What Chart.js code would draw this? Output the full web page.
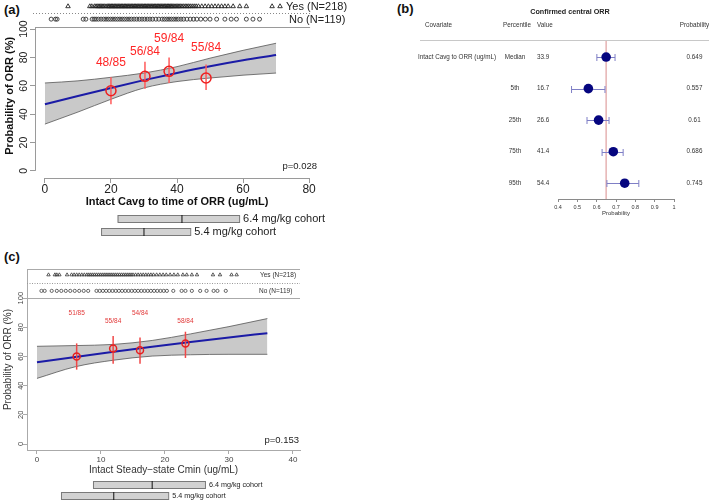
<!DOCTYPE html>
<html><head><meta charset="utf-8">
<script src="https://cdn.jsdelivr.net/npm/chart.js@4.4.1/dist/chart.umd.min.js"></script>
<style>
html,body{margin:0;padding:0;background:#fff;}
body{width:709px;height:504px;position:relative;overflow:hidden;font-family:"Liberation Sans",Arial,Helvetica,sans-serif;}
canvas{position:absolute;}
.plab{position:absolute;font-weight:bold;font-size:13px;line-height:13px;color:#111;}
</style></head><body>
<div class="plab" style="left:4px;top:3px">(a)</div>
<div class="plab" style="left:397px;top:2px">(b)</div>
<div class="plab" style="left:4px;top:250px">(c)</div>
<canvas id="ca" width="365" height="245" style="left:0;top:0"></canvas>
<canvas id="cb" width="344" height="230" style="left:365px;top:0"></canvas>
<canvas id="cc" width="365" height="279" style="left:0;top:225px"></canvas>
<script>
// ---------- Panel (a): Intact Cavg to time of ORR ----------
const aCurveX = [0, 10, 20, 30, 40, 50, 60, 70];
const aFit    = [47, 52.8, 58.5, 64, 69.1, 73.8, 78, 81.7];
const aLower  = [33, 41.5, 50.5, 58.5, 63, 65.5, 67.5, 69];
const aUpper  = [62, 63.5, 66, 69, 73.5, 79.5, 85, 90];
const aBinX   = [20, 30.3, 37.6, 48.8];
const aBinPct = [56.5, 66.7, 70.2, 65.5];
const aBinLo  = [47, 58, 62, 57];
const aBinHi  = [66, 77, 80, 75];
const aBinLabel = ['48/85', '56/84', '59/84', '55/84'];
const aYes = [7, 13.6, 14.2, 15, 15.5, 16, 16.4, 16.8, 17.2, 17.6, 18, 18.5, 19, 19.3, 19.6, 20, 20.3, 20.6, 21, 21.3, 21.6, 22, 22.3, 22.6, 23, 23.3, 23.6, 24, 24.3, 24.6, 25, 25.3, 25.6, 26, 26.3, 26.6, 27, 27.3, 27.6, 28, 28.3, 28.6, 29, 29.3, 29.6, 30, 30.3, 30.6, 31, 31.3, 31.6, 32, 32.3, 32.6, 33, 33.3, 33.6, 34, 34.3, 34.6, 35, 35.3, 35.6, 36, 36.3, 36.6, 37, 37.3, 37.6, 38, 38.3, 38.6, 39, 39.4, 39.8, 40.2, 40.6, 41, 41.5, 42, 42.5, 43, 43.5, 44, 44.6, 45.2, 45.8, 46.5, 47.5, 48.5, 49.5, 50.5, 51.5, 52.5, 53.5, 54.5, 55.5, 57, 59, 61, 68.8, 71.2];
const aNo  = [1.9, 3.2, 3.7, 11.6, 12.4, 14.3, 14.9, 15.5, 16.2, 17, 17.8, 18.5, 19.2, 19.9, 20.6, 21.3, 22, 22.7, 23.4, 24.1, 24.8, 25.5, 26.2, 27, 27.8, 28.6, 29.4, 30.2, 31, 31.8, 32.6, 33.6, 34.5, 35.5, 36.2, 36.9, 37.6, 38.3, 39, 39.7, 40.4, 41.2, 42, 43, 44, 45, 46, 47.2, 48.6, 50, 52, 54.5, 56.4, 58, 61, 63, 65];
const aCohort64 = [22, 41.5, 58.8];   // min, median, max
const aCohort54 = [17, 30, 44];
const aTicksX = [0, 20, 40, 60, 80];
const aTicksY = [0, 20, 40, 60, 80, 100];

// ---------- Panel (b): forest plot ----------
const bCovariate  = 'Intact Cavg to ORR (ug/mL)';
const bPercentile = ['Median', '5th', '25th', '75th', '95th'];
const bValue      = [33.9, 16.7, 26.6, 41.4, 54.4];
const bProb       = [0.649, 0.557, 0.61, 0.686, 0.745];
const bLo         = [0.601, 0.47, 0.55, 0.628, 0.653];
const bHi         = [0.695, 0.643, 0.664, 0.737, 0.818];
const bRef        = 0.649;
const bTicks      = [0.4, 0.5, 0.6, 0.7, 0.8, 0.9, 1];

// ---------- Panel (c): Intact Steady-state Cmin ----------
const cCurveX = [0, 6, 12, 18, 24, 30, 36];
const cFit    = [56, 59.7, 63.3, 66.7, 70, 73.1, 76];
const cLower  = [45, 53, 57.5, 60.3, 61.2, 61.5, 61.5];
const cUpper  = [67, 67.5, 68.3, 71, 75.5, 80.5, 86];
const cBinX   = [6.2, 11.9, 16.1, 23.2];
const cBinPct = [60, 65.5, 64.3, 69];
const cBinLo  = [51, 55, 55, 59];
const cBinHi  = [69, 74, 73, 77];
const cBinLabel = ['51/85', '55/84', '54/84', '58/84'];
const cYes = [1.8, 2.8, 3.1, 3.5, 4.7, 5.4, 5.8, 6.2, 6.6, 7, 7.4, 7.8, 8.1, 8.4, 8.7, 9, 9.3, 9.6, 9.9, 10.2, 10.5, 10.8, 11.1, 11.4, 11.7, 12, 12.3, 12.6, 12.9, 13.2, 13.5, 13.8, 14.1, 14.4, 14.7, 15, 15.4, 15.8, 16.2, 16.6, 17, 17.4, 17.8, 18.2, 18.7, 19.2, 19.7, 20.2, 20.8, 21.4, 22, 22.8, 23.4, 24.2, 25, 27.5, 28.6, 30.4, 31.2];
const cNo  = [0.7, 1.2, 2.3, 3.1, 3.8, 4.5, 5.2, 5.9, 6.6, 7.3, 8, 9.3, 9.8, 10.3, 10.8, 11.3, 11.8, 12.3, 12.8, 13.3, 13.8, 14.3, 14.8, 15.3, 15.8, 16.3, 16.8, 17.3, 17.8, 18.3, 18.8, 19.3, 19.8, 20.3, 21.3, 22.6, 23.2, 24.2, 25.5, 26.5, 27.6, 28.2, 29.5];
const cCohort64 = [8.75, 18, 26.25];
const cCohort54 = [3.75, 12, 20.5];
const cTicksX = [0, 10, 20, 30, 40];
const cTicksY = [0, 20, 40, 60, 80, 100];

// ---------- common ----------
const FONT = '"Liberation Sans", Arial, Helvetica, sans-serif';
Chart.defaults.font.family = FONT;
Chart.defaults.color = '#222';
Chart.defaults.animation = false;
Chart.defaults.events = [];
Chart.defaults.plugins.legend.display = false;
Chart.defaults.plugins.tooltip.enabled = false;

const fixedTicks = arr => scale => { scale.ticks = arr.map(v => ({value: v})); };
const fixWidth = w => s => { s.width = w; s.paddingTop = 0; s.paddingBottom = 0; s.paddingLeft = 0; s.paddingRight = 0; };
const fixHeight = h => s => { s.height = h; s.paddingTop = 0; s.paddingBottom = 0; s.paddingLeft = 0; s.paddingRight = 0; };
const pts = (xs, ys) => xs.map((x, i) => ({x: x, y: ys[i]}));
const rug = (xs, yv) => xs.map(x => ({x: x, y: yv}));

function drawCohort(ctx, xs, vals, y, h, label, fontPx, gap) {
  const x0 = xs.getPixelForValue(vals[0]), xm = xs.getPixelForValue(vals[1]), x1 = xs.getPixelForValue(vals[2]);
  ctx.fillStyle = '#d2d2d2'; ctx.fillRect(x0, y, x1 - x0, h);
  ctx.strokeStyle = '#7a7a7a'; ctx.lineWidth = 1; ctx.strokeRect(x0 + 0.5, y + 0.5, x1 - x0, h);
  ctx.strokeStyle = '#111'; ctx.beginPath(); ctx.moveTo(xm, y); ctx.lineTo(xm, y + h + 1); ctx.stroke();
  ctx.fillStyle = '#222'; ctx.font = fontPx + 'px ' + FONT; ctx.textAlign = 'left'; ctx.textBaseline = 'middle';
  ctx.fillText(label, x1 + gap, y + h / 2 + 0.5);
}
function line(ctx, x0, y0, x1, y1) { ctx.beginPath(); ctx.moveTo(x0, y0); ctx.lineTo(x1, y1); ctx.stroke(); }

function curveDatasets(xs, lo, up, fit, binX, binPct, binColor, binR, lineW) {
  return [
    {data: pts(xs, lo), borderColor: '#555', borderWidth: 0.8, pointRadius: 0, fill: false, cubicInterpolationMode: 'monotone', order: 5},
    {data: pts(xs, up), borderColor: '#555', borderWidth: 0.8, pointRadius: 0, fill: '-1', backgroundColor: '#c9c9c9', cubicInterpolationMode: 'monotone', order: 4},
    {data: pts(xs, fit), borderColor: '#1b1ba6', borderWidth: lineW, pointRadius: 0, fill: false, cubicInterpolationMode: 'monotone', order: 3},
    {data: pts(binX, binPct), showLine: false, pointStyle: 'circle', pointRadius: binR, borderColor: binColor, borderWidth: 1.5, backgroundColor: 'rgba(0,0,0,0)', order: 1}
  ];
}

// ================= Panel (a) =================
const A_YES_Y = 116, A_NO_Y = 107, A_PLOT_TOP = 101.5;
const aLabelY = [76, 84, 93, 87];
new Chart(document.getElementById('ca'), {
  type: 'line',
  data: {datasets: curveDatasets(aCurveX, aLower, aUpper, aFit, aBinX, aBinPct, '#ee2020', 5, 2).concat([
    {data: rug(aYes, A_YES_Y), showLine: false, pointStyle: 'triangle', pointRadius: 2.6, borderWidth: 0.9, borderColor: '#222', backgroundColor: 'rgba(0,0,0,0)', order: 0},
    {data: rug(aNo, A_NO_Y), showLine: false, pointStyle: 'circle', pointRadius: 2, borderWidth: 0.9, borderColor: '#333', backgroundColor: 'rgba(0,0,0,0)', order: 0}
  ])},
  options: {
    responsive: false,
    layout: {autoPadding: false, padding: {top: 1, right: 46, left: 0, bottom: 0}},
    plugins: {filler: {drawTime: 'beforeDatasetsDraw'}},
    scales: {
      x: {type: 'linear', min: -3, max: 83, afterBuildTicks: fixedTicks(aTicksX), afterFit: fixHeight(67),
          grid: {drawOnChartArea: false, tickLength: 5, color: '#999'}, border: {display: false},
          ticks: {font: {size: 12}, color: '#222', padding: -1, autoSkip: false, maxRotation: 0},
          title: {display: true, text: 'Intact Cavg to time of ORR (ug/mL)', font: {size: 11, weight: 'bold'}, color: '#111', padding: {top: 0, bottom: 36}}},
      y: {type: 'linear', min: -5, max: 119.8, afterBuildTicks: fixedTicks(aTicksY), afterFit: fixWidth(35),
          grid: {drawOnChartArea: false, tickLength: 5, color: '#999'}, border: {display: false},
          ticks: {font: {size: 10.5}, color: '#222', minRotation: 90, maxRotation: 90, crossAlign: 'center', padding: -3, autoSkip: false},
          title: {display: false}}
    }
  },
  plugins: [{
    id: 'panelA',
    beforeDatasetDraw(chart, args) {
      if (args.index !== 3) return;
      const {ctx} = chart, xs = chart.scales.x, ys = chart.scales.y;
      ctx.save(); ctx.strokeStyle = '#ff5a5a'; ctx.lineWidth = 1.5;
      aBinX.forEach((x, i) => { const px = xs.getPixelForValue(x); line(ctx, px, ys.getPixelForValue(aBinLo[i]), px, ys.getPixelForValue(aBinHi[i])); });
      ctx.restore();
    },
    afterDraw(chart) {
      const {ctx, chartArea: ca} = chart, xs = chart.scales.x, ys = chart.scales.y;
      ctx.save();
      ctx.strokeStyle = '#9a9a9a'; ctx.lineWidth = 1;
      const xr = xs.getPixelForValue(80) + 1;
      const yt = Math.round(ys.getPixelForValue(A_PLOT_TOP)) + 0.5;
      line(ctx, ca.left, yt, xr, yt);
      line(ctx, ca.left + 0.5, yt, ca.left + 0.5, ys.getPixelForValue(0));
      line(ctx, xs.getPixelForValue(0), ca.bottom + 0.5, xs.getPixelForValue(80), ca.bottom + 0.5);
      ctx.setLineDash([1, 2]); ctx.strokeStyle = '#888';
      const yd = Math.round(ys.getPixelForValue(111.3)) + 0.5;
      line(ctx, ca.left - 2, yd, xr, yd);
      ctx.setLineDash([]);
      // y axis title
      ctx.save();
      ctx.translate(10, ys.getPixelForValue(53));
      ctx.rotate(-Math.PI / 2);
      ctx.fillStyle = '#111'; ctx.font = 'bold 11px ' + FONT; ctx.textAlign = 'center'; ctx.textBaseline = 'middle';
      ctx.fillText('Probability of ORR (%)', 0, 0);
      ctx.restore();
      // bin labels
      ctx.fillStyle = '#ff2626'; ctx.font = '12px ' + FONT; ctx.textAlign = 'center'; ctx.textBaseline = 'middle';
      aBinLabel.forEach((t, i) => ctx.fillText(t, xs.getPixelForValue(aBinX[i]), ys.getPixelForValue(aLabelY[i])));
      // rug labels
      ctx.fillStyle = '#222'; ctx.font = '11px ' + FONT; ctx.textAlign = 'left';
      ctx.fillText('Yes (N=218)', ca.right - 33, ys.getPixelForValue(A_YES_Y) + 0.5);
      ctx.fillText('No (N=119)', ca.right - 30, ys.getPixelForValue(A_NO_Y) + 0.5);
      // p value
      ctx.font = '9.5px ' + FONT; ctx.textAlign = 'right';
      ctx.fillText('p=0.028', ca.right - 2, ys.getPixelForValue(3.5));
      // cohort boxes
      drawCohort(ctx, xs, aCohort64, ca.bottom + 37, 7, '6.4 mg/kg cohort', 11, 4);
      drawCohort(ctx, xs, aCohort54, ca.bottom + 50, 7, '5.4 mg/kg cohort', 11, 4);
      ctx.restore();
    }
  }]
});

// ================= Panel (b) =================
new Chart(document.getElementById('cb'), {
  type: 'scatter',
  data: {datasets: [{data: bProb.map((p, i) => ({x: p, y: i})), pointRadius: 4.8, pointStyle: 'circle', backgroundColor: '#05057f', borderColor: '#05057f', borderWidth: 0}]},
  options: {
    responsive: false,
    layout: {autoPadding: false, padding: {top: 40, right: 35, left: 193, bottom: 0}},
    scales: {
      x: {type: 'linear', min: 0.4, max: 1, afterBuildTicks: fixedTicks(bTicks), afterFit: fixHeight(31),
          grid: {drawOnChartArea: false, tickLength: 3, color: '#8a8a8a'}, border: {display: true, color: '#8a8a8a'},
          ticks: {font: {size: 5.5}, color: '#333', padding: 2, autoSkip: false, maxRotation: 0, callback: v => String(Math.round(v * 10) / 10)},
          title: {display: true, text: 'Probability', font: {size: 6}, color: '#333', padding: {top: 0, bottom: 13}}},
      y: {type: 'linear', min: -0.54, max: 4.5, reverse: true, display: false}
    }
  },
  plugins: [{
    id: 'panelB',
    beforeDatasetsDraw(chart) {
      const {ctx, chartArea: ca} = chart, xs = chart.scales.x, ys = chart.scales.y;
      ctx.save();
      ctx.strokeStyle = '#e6b3b3'; ctx.lineWidth = 1.5;
      const xr = xs.getPixelForValue(bRef);
      line(ctx, xr, ca.top, xr, ca.bottom);
      ctx.strokeStyle = '#7f7fc6'; ctx.lineWidth = 1;
      bProb.forEach((p, i) => {
        const y = Math.round(ys.getPixelForValue(i)) + 0.5, x0 = xs.getPixelForValue(bLo[i]), x1 = xs.getPixelForValue(bHi[i]);
        line(ctx, x0, y, x1, y); line(ctx, x0, y - 3.5, x0, y + 3.5); line(ctx, x1, y - 3.5, x1, y + 3.5);
      });
      ctx.restore();
    },
    afterDraw(chart) {
      const {ctx, chartArea: ca} = chart, ys = chart.scales.y;
      ctx.save();
      ctx.fillStyle = '#222'; ctx.font = 'bold 7.2px ' + FONT; ctx.textAlign = 'center'; ctx.textBaseline = 'middle';
      ctx.fillText('Confirmed central ORR', 205, 12);
      ctx.font = '6.3px ' + FONT; ctx.fillStyle = '#333';
      ctx.textAlign = 'left';
      ctx.fillText('Covariate', 60, 25); ctx.fillText('Percentile', 138, 25); ctx.fillText('Value', 172, 25);
      ctx.textAlign = 'center'; ctx.fillText('Probability', 329.5, 25);
      ctx.strokeStyle = '#c8c8c8'; ctx.lineWidth = 1; line(ctx, 55, ca.top + 0.5, 344, ca.top + 0.5);
      bPercentile.forEach((p, i) => {
        const y = ys.getPixelForValue(i);
        if (i === 0) { ctx.textAlign = 'left'; ctx.fillText(bCovariate, 53, y); }
        ctx.textAlign = 'center'; ctx.fillText(p, 150, y);
        ctx.textAlign = 'left'; ctx.fillText(bValue[i].toFixed(1), 172, y);
        ctx.textAlign = 'center'; ctx.fillText(String(bProb[i]), 329.5, y);
      });
      ctx.restore();
    }
  }]
});

// ================= Panel (c) =================
const C_YES_Y = 116, C_NO_Y = 105;
const cLabelY = [89.7, 84.2, 89.7, 84.2];
new Chart(document.getElementById('cc'), {
  type: 'line',
  data: {datasets: curveDatasets(cCurveX, cLower, cUpper, cFit, cBinX, cBinPct, '#e62020', 3.5, 2).concat([
    {data: rug(cYes, C_YES_Y), showLine: false, pointStyle: 'triangle', pointRadius: 2, borderWidth: 0.8, borderColor: '#333', backgroundColor: 'rgba(0,0,0,0)', order: 0},
    {data: rug(cNo, C_NO_Y), showLine: false, pointStyle: 'circle', pointRadius: 1.6, borderWidth: 0.8, borderColor: '#444', backgroundColor: 'rgba(0,0,0,0)', order: 0}
  ])},
  options: {
    responsive: false,
    layout: {autoPadding: false, padding: {top: 44, right: 65, left: 0, bottom: 0}},
    plugins: {filler: {drawTime: 'beforeDatasetsDraw'}},
    scales: {
      x: {type: 'linear', min: -1.56, max: 41.1, afterBuildTicks: fixedTicks(cTicksX), afterFit: fixHeight(54),
          grid: {drawOnChartArea: false, tickLength: 4, color: '#aaa'}, border: {display: true, color: '#aaa'},
          ticks: {font: {size: 8}, color: '#444', padding: 1, autoSkip: false, maxRotation: 0},
          title: {display: true, text: 'Intact Steady\u2212state Cmin (ug/mL)', font: {size: 10}, color: '#333', padding: {top: 0, bottom: 28}}},
      y: {type: 'linear', min: -4.1, max: 120, afterBuildTicks: fixedTicks(cTicksY), afterFit: fixWidth(27),
          grid: {drawOnChartArea: false, tickLength: 4, color: '#aaa'}, border: {display: true, color: '#aaa'},
          ticks: {font: {size: 7.5}, color: '#444', minRotation: 90, maxRotation: 90, crossAlign: 'center', padding: -4, autoSkip: false},
          title: {display: true, text: 'Probability of ORR (%)', font: {size: 10}, color: '#333', padding: {top: 2, bottom: 0}}}
    }
  },
  plugins: [{
    id: 'panelC',
    beforeDatasetDraw(chart, args) {
      if (args.index !== 3) return;
      const {ctx} = chart, xs = chart.scales.x, ys = chart.scales.y;
      ctx.save(); ctx.strokeStyle = '#f04848'; ctx.lineWidth = 1.5;
      cBinX.forEach((x, i) => { const px = xs.getPixelForValue(x); line(ctx, px, ys.getPixelForValue(cBinLo[i]), px, ys.getPixelForValue(cBinHi[i])); });
      ctx.restore();
    },
    afterDraw(chart) {
      const {ctx, chartArea: ca} = chart, xs = chart.scales.x, ys = chart.scales.y;
      ctx.save();
      ctx.strokeStyle = '#aaa'; ctx.lineWidth = 1;
      line(ctx, ca.left, ca.top + 0.5, ca.right, ca.top + 0.5);
      const ys100 = Math.round(ys.getPixelForValue(100)) + 0.5;
      line(ctx, ca.left, ys100, ca.right, ys100);
      ctx.setLineDash([1, 1.5]); ctx.strokeStyle = '#999';
      const yd = Math.round(ys.getPixelForValue(110.3)) + 0.5;
      line(ctx, ca.left, yd, ca.right, yd);
      ctx.setLineDash([]);
      ctx.fillStyle = '#e23a3a'; ctx.font = '6.5px ' + FONT; ctx.textAlign = 'center'; ctx.textBaseline = 'middle';
      cBinLabel.forEach((t, i) => ctx.fillText(t, xs.getPixelForValue(cBinX[i]), ys.getPixelForValue(cLabelY[i])));
      ctx.fillStyle = '#333'; ctx.font = '6.5px ' + FONT; ctx.textAlign = 'left';
      ctx.fillText('Yes (N=218)', ca.right - 40, ys.getPixelForValue(C_YES_Y));
      ctx.fillText('No (N=119)', ca.right - 41, ys.getPixelForValue(C_NO_Y));
      ctx.font = '9.5px ' + FONT; ctx.textAlign = 'right'; ctx.fillStyle = '#222';
      ctx.fillText('p=0.153', ca.right - 1, ca.bottom - 10);
      drawCohort(ctx, xs, cCohort64, ca.bottom + 31, 7, '6.4 mg/kg cohort', 7.2, 4);
      drawCohort(ctx, xs, cCohort54, ca.bottom + 42, 7, '5.4 mg/kg cohort', 7.2, 4);
      ctx.restore();
    }
  }]
});
</script>
</body></html>
